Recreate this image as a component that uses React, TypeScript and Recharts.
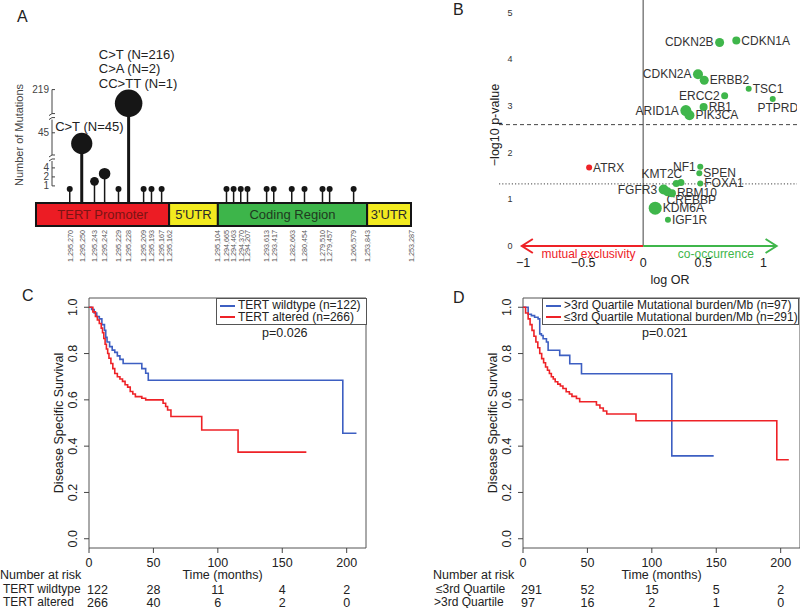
import React from "react"
import {
  ComposedChart, Bar, XAxis, YAxis, ReferenceArea, ReferenceLine, ReferenceDot,
  ScatterChart, Scatter, LineChart, Line, Legend, Label,
} from "recharts"

const FONT = '"Liberation Sans", Arial, Helvetica, sans-serif'
const INK = "#222"
const BLUE = "#3d5fc2"
const RED = "#ee2227"
const GREEN = "#3fb64b"

// ---------- A: TERT mutations on a schematic track (0 = promoter start, 100 = 3'UTR end)
const siteLabels = [
  "1,295,270", "1,295,250", "1,295,243", "1,295,242", "1,295,229", "1,295,228", "1,295,209", "1,295,193", "1,295,167",
  "1,294,665", "1,294,463", "1,294,370", "1,294,207", "1,293,613", "1,293,417", "1,282,663", "1,280,454", "1,279,510", "1,279,457", "1,266,579",
]
const siteTrack = [9.1, 12.3, 15.7, 18.4, 22.1, 24.8, 28.8, 30.9, 33.6, 50.9, 52.8, 54.7, 56.5, 61.6, 63.5, 68.3, 71.7, 76.5, 78.4, 84.8]
const siteCounts = [1, 45, 2, 4, 1, 219, 1, 1, 1, 1, 1, 1, 1, 1, 1, 1, 1, 1, 1, 1]
const siteNotes: string[][] = [
  [], ["C>T (N=45)"], [], [], [], ["C>T (N=216)", "C>A (N=2)", "CC>TT (N=1)"], [], [], [],
  [], [], [], [], [], [], [], [], [], [], [],
]
const regionNames = ["TERT Promoter", "5'UTR", "Coding Region", "3'UTR"]
const regionStart = [0, 35.5, 48.5, 88.3]
const regionEnd = [35.5, 48.5, 88.3, 100]
const regionFill = ["#ec1c24", "#f2ea1f", "#3db54a", "#f2ea1f"]
const regionText = ["#7a1414", "#2a2a2a", "#1f3a1f", "#2a2a2a"]
const boundaryLabels = ["1,295,162", "1,295,104", "1,253,843", "1,253,287"]
const boundaryTrack = [35.5, 48.5, 88.3, 100]

// broken count axis: tick counts and the height level each sits at
const mutTicks = [1, 2, 4, 45, 219]
const mutLevels = [1.9, 2.9, 3.9, 7.8, 12.6]
const breakLevels = [5.0, 9.6]
const AXIS_TRACK = 4.27

function toLevel(count: number) {
  const c = [0, ...mutTicks]
  const l = [0, ...mutLevels]
  for (let i = 1; i < c.length; i++) {
    if (count <= c[i]) return l[i - 1] + ((count - c[i - 1]) / (c[i] - c[i - 1])) * (l[i] - l[i - 1])
  }
  return l[l.length - 1]
}

const sites = siteLabels.map((label, i) => ({
  label, track: siteTrack[i], count: siteCounts[i], level: toLevel(siteCounts[i]), note: siteNotes[i],
}))
const trackTicks = [...siteTrack, ...boundaryTrack]
const trackLabel = (v: number) => {
  const i = siteTrack.indexOf(v)
  return i >= 0 ? siteLabels[i] : boundaryLabels[boundaryTrack.indexOf(v)]
}

// ---------- B: co-occurrence / exclusivity with TERT
const geneNames = ["CDKN2B", "CDKN1A", "CDKN2A", "ERBB2", "TSC1", "ERCC2", "PTPRD", "RB1", "ARID1A", "PIK3CA",
  "ATRX", "NF1", "SPEN", "FOXA1", "KMT2C", "", "FGFR3", "CREBBP", "RBM10", "KDM6A", "IGF1R"]
const geneLogOR = [0.636, 0.775, 0.456, 0.508, 0.878, 0.678, 1.078, 0.503, 0.355, 0.385,
  -0.45, 0.475, 0.467, 0.475, 0.275, 0.314, 0.17, 0.203, 0.239, 0.1, 0.206]
const geneLogP = [4.36, 4.40, 3.68, 3.55, 3.37, 3.22, 3.15, 2.98, 2.90, 2.80,
  1.68, 1.70, 1.56, 1.34, 1.34, 1.36, 1.21, 1.16, 1.13, 0.81, 0.56]
// marker radius and label placement (styling)
const geneDotR = [4.5, 4, 5, 4.5, 3, 3.5, 3, 4, 5.5, 5, 3, 3, 3, 3, 3.5, 3.5, 5, 4.5, 4, 6.5, 3]
const geneLabelPos = ["left", "right", "left", "right", "right", "left", "below", "right", "left", "right",
  "right", "left", "right", "right", "aboveLeft", "none", "left", "belowRight", "right", "right", "right"]
const sigLogP = 2.6
const nominalLogP = 1.33

const genes = geneNames.map((name, i) => ({
  name, x: geneLogOR[i], y: geneLogP[i], r: geneDotR[i], pos: geneLabelPos[i],
}))

// ---------- C / D: Kaplan-Meier
const wtTime = [0, 2, 4, 6, 8, 10, 12, 13, 14, 16, 18, 20, 22, 24, 26.5, 41, 44, 46, 197, 207.6]
const wtSurv = [1, 0.99, 0.975, 0.96, 0.95, 0.925, 0.9, 0.87, 0.85, 0.83, 0.815, 0.805, 0.79, 0.775, 0.757, 0.735, 0.715, 0.685, 0.456, 0.456]
const altTime = [0, 3, 5, 6.5, 8, 9.5, 10.5, 11.5, 12.5, 13.5, 14.5, 15.5, 17, 18.5, 20, 22, 24, 26, 28, 30, 32, 34, 36, 41, 44, 57.5, 59.5, 61, 63.6, 87.5, 115.7, 168.7]
const altSurv = [1, 0.98, 0.96, 0.945, 0.93, 0.91, 0.89, 0.865, 0.84, 0.82, 0.8, 0.78, 0.757, 0.735, 0.714, 0.7, 0.69, 0.68, 0.665, 0.655, 0.636, 0.625, 0.614, 0.607, 0.6, 0.585, 0.571, 0.556, 0.528, 0.47, 0.374, 0.374]
const hiTime = [0, 4, 6.5, 9, 11.7, 13, 14.3, 15.6, 18.2, 19.5, 28.5, 36.3, 45.4, 115.5, 148]
const hiSurv = [1, 0.97, 0.964, 0.957, 0.95, 0.885, 0.878, 0.864, 0.85, 0.814, 0.792, 0.756, 0.713, 0.358, 0.358]
const loTime = [0, 2, 4, 5.5, 7, 8.5, 10, 11.5, 13, 14.5, 16, 17.5, 19, 20.5, 22, 23.5, 25, 27, 29, 31, 33.5, 36, 38, 41.5, 44, 57, 59.7, 62.3, 65, 87.7, 197, 206.3]
const loSurv = [1, 0.975, 0.95, 0.925, 0.9, 0.875, 0.85, 0.825, 0.8, 0.778, 0.76, 0.742, 0.728, 0.714, 0.7, 0.69, 0.678, 0.668, 0.66, 0.649, 0.635, 0.625, 0.615, 0.606, 0.592, 0.578, 0.565, 0.552, 0.539, 0.51, 0.341, 0.341]

const riskTicks = [0, 50, 100, 150, 200]
const riskWildtype = [122, 28, 11, 4, 2]
const riskAltered = [266, 40, 6, 2, 0]
const riskLowTmb = [291, 52, 15, 5, 2]
const riskHighTmb = [97, 16, 2, 1, 0]

const toSteps = (time: number[], surv: number[]) => time.map((t, i) => ({ t, s: surv[i] }))

// ---------- shared helpers
const title = (text: string, dx: number, dy: number, rotate: boolean, size = 12.5, fill = INK) => (
  <Label
    content={(p: any) => {
      const vb = p.viewBox || { x: 0, y: 0, width: 0, height: 0 }
      const cx = vb.x + (rotate ? dx : vb.width / 2 + dx)
      const cy = vb.y + (rotate ? vb.height / 2 + dy : dy)
      return (
        <text x={cx} y={cy} transform={rotate ? `rotate(-90, ${cx}, ${cy})` : undefined}
          textAnchor="middle" dominantBaseline="central" fontSize={size} fill={fill}>{text}</text>
      )
    }}
  />
)

// ---------- A pieces
function Lollipop(props: any) {
  const { x, y, width, height, payload } = props
  const cx = x + width / 2
  const r = 3 + 2 * Math.log(payload.count)
  const cy = y + r
  const base = y + height
  const n = payload.note.length
  return (
    <g>
      <line x1={cx} x2={cx} y1={cy} y2={base} stroke="#161616" strokeWidth={payload.count >= 45 ? 3 : 1.5} />
      <circle cx={cx} cy={cy} r={r} fill="#161616" />
      {payload.note.map((t: string, i: number) => (
        <text key={t} x={cx - r - 16} y={y - 2 - (n - 1 - i) * 14.5} fontSize={13} fill={INK}>{t}</text>
      ))}
    </g>
  )
}

const GenomeTick = (p: any) => {
  const x = p.x + 2.5
  return (
    <text x={x} y={p.y} transform={`rotate(-90, ${x}, ${p.y})`} textAnchor="end" fontSize={7.2} fill="#555">
      {trackLabel(p.payload.value)}
    </text>
  )
}

const MutTick = (p: any) => {
  const label = mutTicks[mutLevels.indexOf(p.payload.value)]
  return (
    <g>
      <text x={p.x} y={p.y} dy={3.5} textAnchor="end" fontSize={10} fill="#444">{label}</text>
      <line x1={p.x + 3} x2={p.x + 6} y1={p.y} y2={p.y} stroke="#444" />
    </g>
  )
}

const AxisBreak = (p: any) => (
  <g>
    <rect x={p.cx - 3} y={p.cy - 3} width={6} height={6} fill="#fff" />
    <path d={`M${p.cx - 3},${p.cy - 1} q3,-3 6,-2 M${p.cx - 3},${p.cy + 3} q3,-3 6,-2`} stroke="#444" fill="none" />
  </g>
)

function PanelA() {
  return (
    <ComposedChart width={430} height={266} data={sites} margin={{ top: 40, right: 19, bottom: 0, left: 0 }}>
      <XAxis type="number" dataKey="track" domain={[AXIS_TRACK, 100]} ticks={trackTicks} interval={0}
        tick={<GenomeTick />} axisLine={false} tickLine={false} tickSize={0} tickMargin={4} height={40} allowDataOverflow />
      <YAxis type="number" domain={[-2.556, 18.11]} ticks={mutLevels} interval={0} tick={<MutTick />}
        axisLine={false} tickLine={false} tickSize={0} tickMargin={3} width={52} allowDataOverflow
        label={title("Number of Mutations", 19, 2, true, 11, "#444")} />
      {regionNames.map((name, i) => (
        <ReferenceArea key={name} x1={regionStart[i]} x2={regionEnd[i]} y1={-2.556} y2={0} ifOverflow="visible"
          fill={regionFill[i]} fillOpacity={1} stroke="#151515" strokeWidth={2}
          label={{ value: name, position: "center", fill: regionText[i], fontSize: 13 }} />
      ))}
      <ReferenceLine segment={[{ x: AXIS_TRACK, y: mutLevels[0] }, { x: AXIS_TRACK, y: mutLevels[mutLevels.length - 1] }]}
        stroke="#444" ifOverflow="visible" />
      {breakLevels.map((lv) => (
        <ReferenceDot key={lv} x={AXIS_TRACK} y={lv} ifOverflow="visible" shape={<AxisBreak />} />
      ))}
      <Bar dataKey="level" barSize={6} shape={<Lollipop />} isAnimationActive={false} />
    </ComposedChart>
  )
}

// ---------- B pieces
function GeneDot(props: any) {
  const { cx, cy, payload } = props
  const r = payload.r
  const fill = payload.x < 0 ? RED : GREEN
  let tx = cx + r + 1
  let ty = cy
  let anchor = "start"
  if (payload.pos === "left") { tx = cx - r - 1.5; anchor = "end" }
  if (payload.pos === "below") { tx = cx + 5; ty = cy + r + 6; anchor = "middle" }
  if (payload.pos === "aboveLeft") { tx = cx + 6; ty = cy - 9; anchor = "end" }
  if (payload.pos === "belowRight") { tx = cx - 1; ty = cy + 8 }
  return (
    <g>
      <circle cx={cx} cy={cy} r={r} fill={fill} />
      {payload.pos !== "none" && (
        <text x={tx} y={ty} textAnchor={anchor} dominantBaseline="central" fontSize={12} fill="#333">{payload.name}</text>
      )}
    </g>
  )
}

const makeArrow = (color: string, text: string) => (p: any) => {
  const { x1, y1, x2, y2 } = p
  const dir = x2 > x1 ? 1 : -1
  const mid = (x1 + x2) / 2 + 6
  return (
    <g>
      <line x1={x1} y1={y1} x2={x2} y2={y2} stroke={color} strokeWidth={2} />
      <path d={`M${x2 - dir * 11},${y2 - 7} L${x2},${y2} L${x2 - dir * 11},${y2 + 7}`} stroke={color} strokeWidth={2} fill="none" />
      <text x={mid} y={y1 + 8} textAnchor="middle" dominantBaseline="central" fontSize={12} fill={color}>{text}</text>
    </g>
  )
}

const PTick = (p: any) => (
  <text x={p.x + 11} y={p.y} textAnchor="middle" dominantBaseline="central" fontSize={9} fill="#333">{p.payload.value}</text>
)

function PanelB() {
  return (
    <ScatterChart width={360} height={292} margin={{ top: 0, right: 3, bottom: 0, left: 0 }}>
      <XAxis type="number" dataKey="x" domain={[-1.2, 1.28]} ticks={[-1, -0.5, 0, 0.5, 1]} interval={0}
        tickFormatter={(v: number) => (v < 0 ? "\u2212" + Math.abs(v) : String(v))}
        tick={{ fontSize: 12.5, fill: INK }} axisLine={false} tickLine={false} tickSize={0} tickMargin={8} height={42}
        allowDataOverflow label={title("log OR", 22, 30, false, 12.5)} />
      <YAxis type="number" dataKey="y" domain={[-0.086, 5.27]} ticks={[0, 1, 2, 3, 4, 5]} interval={0}
        tick={<PTick />} axisLine={false} tickLine={false} tickSize={0} tickMargin={0} width={59} allowDataOverflow
        label={title("\u2212log10 p-value", 55, 0, true, 12.5)} />
      <ReferenceLine segment={[{ x: 0, y: 0 }, { x: 0, y: 5.27 }]} stroke="#808080" strokeWidth={1.5} />
      <ReferenceLine y={sigLogP} stroke="#444" strokeDasharray="4 3" />
      <ReferenceLine y={nominalLogP} stroke="#444" strokeDasharray="1.2 2" />
      <ReferenceLine segment={[{ x: 0, y: 0 }, { x: -1.01, y: 0 }]} shape={makeArrow(RED, "mutual exclusivity")} />
      <ReferenceLine segment={[{ x: 0, y: 0 }, { x: 1.11, y: 0 }]} shape={makeArrow(GREEN, "co-occurrence")} />
      <Scatter data={genes} shape={<GeneDot />} isAnimationActive={false} />
    </ScatterChart>
  )
}

// ---------- C / D pieces
type KMSeries = { name: string; color: string; data: { t: number; s: number }[] }

const SurvTick = (p: any) => {
  const x = p.x - 9
  return (
    <text x={x} y={p.y} transform={`rotate(-90, ${x}, ${p.y})`} textAnchor="middle" dominantBaseline="central"
      fontSize={12.5} fill={INK}>{Number(p.payload.value).toFixed(1)}</text>
  )
}

const makeRiskTick = (rowA: number[], rowB: number[]) => (p: any) => {
  const i = riskTicks.indexOf(p.payload.value)
  // the first column of the risk table is left-aligned at the tick
  const rx = i === 0 ? p.x - 2 : p.x
  const anchor = i === 0 ? "start" : "middle"
  return (
    <g fontSize={12.5} fill={INK}>
      <text x={p.x} y={p.y + 11.5} textAnchor="middle">{p.payload.value}</text>
      <text x={rx} y={p.y + 38.5} textAnchor={anchor}>{rowA[i]}</text>
      <text x={rx} y={p.y + 51.5} textAnchor={anchor}>{rowB[i]}</text>
    </g>
  )
}

function KMLegend({ items, width }: { items: KMSeries[]; width: number }) {
  return (
    <div style={{
      width, boxSizing: "border-box", border: "1px solid #555", background: "#fff",
      padding: "1px 0 1px 3px", fontSize: 12, lineHeight: "11.5px", color: INK, fontFamily: FONT,
    }}>
      {items.map((it) => (
        <div key={it.name} style={{ display: "flex", alignItems: "center", whiteSpace: "nowrap" }}>
          <span style={{ display: "inline-block", width: 15, borderTop: `2px solid ${it.color}`, marginRight: 3 }} />
          {it.name}
        </div>
      ))}
    </div>
  )
}

function KMPanel(props: {
  series: KMSeries[]; rowA: number[]; rowB: number[]; legendLeft: number; legendWidth: number; titleDx: number
}) {
  const { series, rowA, rowB, legendLeft, legendWidth, titleDx } = props
  return (
    <LineChart width={368} height={318} margin={{ top: 8, right: 1, bottom: 0, left: 0 }}>
      <XAxis type="number" dataKey="t" domain={[0, 215]} ticks={riskTicks} interval={0} allowDataOverflow
        tick={makeRiskTick(rowA, rowB)} axisLine={false} tickLine={{ stroke: "#444" }} tickSize={5} height={60}
        label={title("Time (months)", titleDx, 27, false, 12.5)} />
      <YAxis type="number" domain={[-0.04, 1.04]} ticks={[0, 0.2, 0.4, 0.6, 0.8, 1]} interval={0} allowDataOverflow
        tick={<SurvTick />} axisLine={false} tickLine={{ stroke: "#444" }} tickSize={5} width={90}
        label={title("Disease Specific Survival", 60, 0, true, 12.5)} />
      <ReferenceArea x1={0} x2={215} y1={-0.04} y2={1.04} fill="none" fillOpacity={0} stroke="#555" strokeWidth={1} />
      {series.map((s) => (
        <Line key={s.name} data={s.data} dataKey="s" name={s.name} type="stepAfter" stroke={s.color}
          strokeWidth={1.6} dot={false} activeDot={false} isAnimationActive={false} />
      ))}
      <Legend layout="vertical" align="center" verticalAlign="middle"
        wrapperStyle={{ position: "absolute", left: legendLeft, top: 8, width: legendWidth, height: "auto" }}
        content={() => <KMLegend items={series} width={legendWidth} />} />
    </LineChart>
  )
}

const seriesC: KMSeries[] = [
  { name: "TERT wildtype (n=122)", color: BLUE, data: toSteps(wtTime, wtSurv) },
  { name: "TERT altered (n=266)", color: RED, data: toSteps(altTime, altSurv) },
]
const seriesD: KMSeries[] = [
  { name: ">3rd Quartile Mutational burden/Mb (n=97)", color: BLUE, data: toSteps(hiTime, hiSurv) },
  { name: "\u22643rd Quartile Mutational burden/Mb (n=291)", color: RED, data: toSteps(loTime, loSurv) },
]

const abs = (left: number, top: number, extra: React.CSSProperties = {}): React.CSSProperties => ({
  position: "absolute", left, top, ...extra,
})
const txt: React.CSSProperties = { fontSize: 12.5, color: INK, whiteSpace: "nowrap", lineHeight: "14px" }
const rowTxt: React.CSSProperties = { ...txt, fontSize: 12 }
const letter: React.CSSProperties = { fontSize: 16, color: INK, lineHeight: "16px" }

export default function App() {
  return (
    <div style={{ position: "relative", width: 800, height: 608, background: "#fff", fontFamily: FONT, overflow: "hidden" }}>
      <style>{"body{margin:0}"}</style>

      <div style={abs(0, 0)}><PanelA /></div>
      <div style={abs(440, 0)}><PanelB /></div>
      <div style={abs(-1, 290)}>
        <KMPanel series={seriesC} rowA={riskWildtype} rowB={riskAltered} legendLeft={217} legendWidth={151} titleDx={-5} />
      </div>
      <div style={abs(433, 290)}>
        <KMPanel series={seriesD} rowA={riskLowTmb} rowB={riskHighTmb} legendLeft={109} legendWidth={257} titleDx={0} />
      </div>

      <div style={abs(17, 9, letter)}>A</div>
      <div style={abs(453, 2, letter)}>B</div>
      <div style={abs(22, 288, letter)}>C</div>
      <div style={abs(453, 290, letter)}>D</div>

      <div style={abs(262, 326, txt)}>p=0.026</div>
      <div style={abs(642, 326, txt)}>p=0.021</div>

      <div style={abs(0, 568, txt)}>Number at risk</div>
      <div style={abs(3, 582, rowTxt)}>TERT wildtype</div>
      <div style={abs(3, 595, rowTxt)}>TERT altered</div>
      <div style={abs(433, 568, txt)}>Number at risk</div>
      <div style={abs(436, 582, rowTxt)}>{"\u22643rd Quartile"}</div>
      <div style={abs(434, 595, rowTxt)}>{">3rd Quartile"}</div>
    </div>
  )
}
